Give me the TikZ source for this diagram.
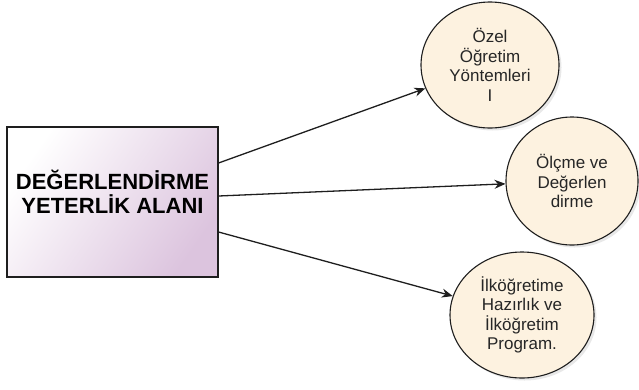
\documentclass[tikz,border=0pt]{standalone}
\usepackage{fontspec}
\setmainfont{Liberation Sans}
\usetikzlibrary{arrows.meta,shapes.geometric,shadows}
\definecolor{circfill}{RGB}{253,242,224}
\definecolor{boxend}{RGB}{220,196,222}
\definecolor{linecol}{RGB}{30,30,30}
\tikzset{
  mainbox/.style={draw=linecol, line width=1.1pt, minimum width=211pt, minimum height=150pt,
    left color=white, right color=boxend, shading angle=55, align=center,
    font=\fontsize{22}{24}\selectfont\bfseries, text=black, inner sep=0pt},
  topic/.style={ellipse, draw=linecol, line width=1.1pt, fill=circfill, align=center,
    font=\fontsize{17}{19.5}\selectfont, text=black!85, inner sep=0pt,
    drop shadow={opacity=0.18, shadow xshift=2.5pt, shadow yshift=-2.5pt}},
  conn/.style={draw=linecol, line width=1.3pt, -{Stealth[length=11pt,width=9pt]}}
}
\begin{document}
\begin{tikzpicture}[x=1pt,y=-1pt]
\useasboundingbox (0,0) rectangle (639,389);
\node[mainbox] (box) at (112.5,202) {DEĞERLENDİRME\\YETERLİK ALANI\\[-3pt]};
\node[topic, minimum width=138pt, minimum height=126pt] (c1) at (490,65) {Özel\\Öğretim\\Yöntemleri\\I};
\node[topic, minimum width=132pt, minimum height=128pt] (c2) at (572,181) {Ölçme ve\\Değerlen\\dirme};
\node[topic, minimum width=144pt, minimum height=126pt] (c3) at (522,315) {İlköğretime\\Hazırlık ve\\İlköğretim\\Program.};
\draw[conn] ([yshift=39pt]box.east) -- (c1);
\draw[conn] ([yshift=6pt]box.east) -- (c2);
\draw[conn] ([yshift=-30pt]box.east) -- (c3);
\end{tikzpicture}
\end{document}
